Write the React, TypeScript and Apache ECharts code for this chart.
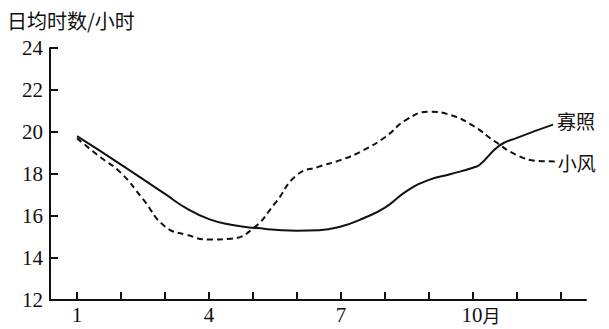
import React, { useEffect, useRef } from "react";
import * as echarts from "echarts";

const yTitle = "日均时数/小时";
const seriesNames = ["寡照", "小风"];
const xTickValues = [1, 2, 3, 4, 5, 6, 7, 8, 9, 10, 11, 12];
const xLabelValues = [1, 4, 7, 10];
const guazhaoMonths = [1, 2, 3, 3.5, 4, 4.5, 5, 6, 6.5, 7, 7.5, 8, 8.5, 9, 9.5, 10, 10.16, 10.6, 11, 11.82];
const guazhaoValues = [19.8, 18.45, 17.05, 16.35, 15.85, 15.58, 15.44, 15.3, 15.32, 15.5, 15.88, 16.4, 17.2, 17.72, 18.0, 18.3, 18.45, 19.35, 19.72, 20.35];
const xiaofengMonths = [1, 1.5, 2, 2.5, 3, 3.5, 4, 4.5, 5, 5.5, 6, 6.5, 7, 7.5, 8, 8.5, 9, 9.5, 10, 10.5, 11, 11.5, 11.86];
const xiaofengValues = [19.7, 18.85, 18.05, 16.8, 15.5, 15.1, 14.88, 14.92, 15.4, 16.6, 17.95, 18.35, 18.67, 19.12, 19.75, 20.6, 20.96, 20.8, 20.3, 19.55, 18.9, 18.62, 18.6];

const ink = "#111";
const serif = "'Liberation Serif', 'DejaVu Serif', serif";
const cjk = "'Noto Sans CJK SC', sans-serif";

export default function App() {
  const ref = useRef<HTMLDivElement>(null);
  useEffect(() => {
    if (!ref.current) return;
    const chart = echarts.init(ref.current, undefined, { renderer: "svg" });
    const zip = (a: number[], b: number[]) => a.map((m, i) => [m, b[i]]);
    chart.setOption({
      animation: false,
      backgroundColor: "#fff",
      title: {
        text: yTitle,
        left: 2,
        top: 5,
        textStyle: { fontSize: 20, fontWeight: "normal", color: ink, fontFamily: cjk },
      },
      grid: { left: 50, right: 23, top: 48, bottom: 29 },
      xAxis: {
        type: "value",
        min: 0.386,
        max: 12.57,
        splitLine: { show: false },
        axisLine: { lineStyle: { color: ink, width: 2 } },
        axisTick: { show: true, inside: true, length: 8, customValues: xTickValues, lineStyle: { color: ink, width: 2 } },
        axisLabel: {
          customValues: xLabelValues,
          margin: 4,
          color: ink,
          fontSize: 21,
          fontFamily: serif,
          formatter: (v: number) => (v === 10 ? "{t|10}{c|月}" : String(v)),
          rich: {
            t: { fontSize: 21, fontFamily: serif, color: ink, padding: [0, 0, 0, 16] },
            c: { fontSize: 18, fontFamily: cjk, color: ink },
          },
        },
      },
      yAxis: {
        type: "value",
        min: 12,
        max: 24,
        interval: 2,
        splitLine: { show: false },
        axisLine: { show: true, lineStyle: { color: ink, width: 2 } },
        axisTick: { show: true, inside: true, length: 8, lineStyle: { color: ink, width: 2 } },
        axisLabel: { margin: 7, color: ink, fontSize: 21, fontFamily: serif },
      },
      series: [
        {
          name: seriesNames[0],
          type: "line",
          smooth: 0.5,
          symbol: "none",
          data: zip(guazhaoMonths, guazhaoValues),
          lineStyle: { color: ink, width: 2 },
          endLabel: { show: true, formatter: "{a}", distance: 4, offset: [0, -4], fontSize: 19, fontFamily: cjk, color: ink },
        },
        {
          name: seriesNames[1],
          type: "line",
          smooth: 0.5,
          symbol: "none",
          data: zip(xiaofengMonths, xiaofengValues),
          lineStyle: { color: ink, width: 2, type: [6, 4] },
          endLabel: { show: true, formatter: "{a}", distance: 3, offset: [0, 1], fontSize: 19, fontFamily: cjk, color: ink },
        },
      ],
    });
    return () => chart.dispose();
  }, []);
  return <div ref={ref} style={{ position: "absolute", left: 0, top: 0, width: 609, height: 329 }} />;
}
